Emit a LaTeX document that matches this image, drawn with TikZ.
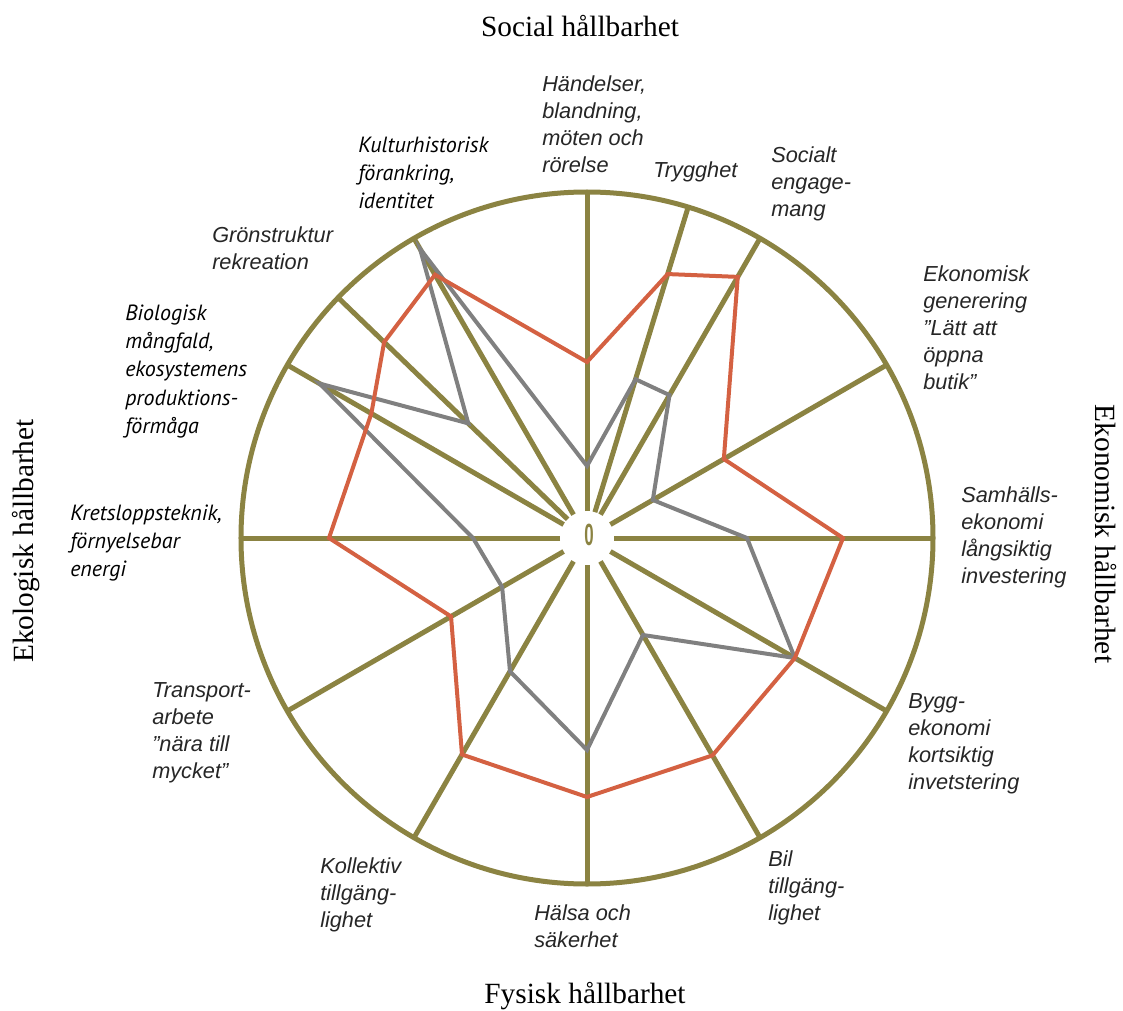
\documentclass[tikz,border=0pt]{standalone}
\usepackage{fontspec}
\usepackage{graphicx}
\setmainfont{Liberation Serif}
\newfontfamily\arialfont{Liberation Sans}
\newfontfamily\myriadfont{PT Sans}
\definecolor{spokeolive}{RGB}{139,131,66}
\definecolor{plotred}{RGB}{212,97,66}
\definecolor{plotgrey}{RGB}{128,128,128}
\definecolor{labgrey}{RGB}{38,38,38}
\tikzset{
  spoke/.style={draw=spokeolive, line width=3.75pt},
  rim/.style={draw=spokeolive, line width=3.75pt},
  redline/.style={draw=plotred, line width=3pt},
  greyline/.style={draw=plotgrey, line width=3pt},
  lab/.style={anchor=north west, inner sep=0pt, align=left, text=labgrey,
    font=\arialfont\itshape\fontsize{16.3pt}{20.25pt}\selectfont},
  myr/.style={anchor=north west, inner sep=0pt, align=left, text=black,
    font=\myriadfont\itshape\fontsize{16.5pt}{21.2pt}\selectfont},
  title/.style={anchor=base, inner sep=0pt, font=\fontsize{22pt}{26pt}\selectfont}
}
\begin{document}
\begin{tikzpicture}[x=0.75pt,y=0.75pt]
\useasboundingbox (-587,-472) rectangle (536,538);
% rim and spokes
\draw[rim] (0,0) circle (346);
\foreach \a in {90,73,60,30,0,-30,-60,-90,-120,-150,180,150,136,120}
  \draw[spoke] (\a:27) -- (\a:346);
\node[text=spokeolive, inner sep=0pt, font=\arialfont\bfseries\fontsize{23pt}{23pt}\selectfont] (zero) at (2,3) {\scalebox{0.55}[1]{0}};
% grey profile
\draw[greyline] (90:72) -- (73:166) -- (60:165) -- (30:76) -- (0:160) -- (-30:240)
  -- (-60:112) -- (-90:212) -- (-120:154) -- (-150:98) -- (180:114) -- (150:309)
  -- (136:165) -- (120:334) -- cycle;
% red profile
\draw[redline] (90:176) -- (73:276) -- (60:301.5) -- (30:158) -- (0:256) -- (-30:240)
  -- (-60:251) -- (-90:259) -- (-120:250) -- (-150:157) -- (180:258) -- (150:249)
  -- (136:282) -- (120:304) -- cycle;
% titles
\node[title] (social) at (-7,501) {Social hållbarhet};
\node[title] (fysisk) at (-2,-465) {Fysisk hållbarhet};
\node[title, rotate=90] (ekologisk) at (-553,-3) {Ekologisk hållbarhet};
\node[title, rotate=-90] (ekonomisk) at (508,4) {Ekonomisk hållbarhet};
% labels
\node[lab] (handelser) at (-45,465.5) {\strut Händelser,\\blandning,\\möten och\\rörelse};
\node[lab] (trygghet) at (66,379.9) {\strut Trygghet};
\node[lab] (socialt) at (184,394.9) {\strut Socialt\\engage-\\mang};
\node[lab] (ekgen) at (336,275.9) {\strut Ekonomisk\\generering\\”Lätt att\\öppna\\butik”};
\node[lab] (samh) at (374,54.9) {\strut Samhälls-\\ekonomi\\långsiktig\\investering};
\node[lab] (bygg) at (321,-151.1) {\strut Bygg-\\ekonomi\\kortsiktig\\invetstering};
\node[lab] (bil) at (181,-309.1) {\strut Bil\\tillgäng-\\lighet};
\node[lab] (halsa) at (-53,-363.1) {\strut Hälsa och\\säkerhet};
\node[lab] (kollektiv) at (-267,-316.1) {\strut Kollektiv\\tillgäng-\\lighet};
\node[lab] (transport) at (-435,-140.1) {\strut Transport-\\arbete\\”nära till\\mycket”};
\node[lab] (gron) at (-375,314.9) {\strut Grönstruktur\\rekreation};
\node[myr] (kultur) at (-229,405.8) {\strut Kulturhistorisk\\förankring,\\identitet};
\node[myr] (bio) at (-462,237.8) {\strut Biologisk\\mångfald,\\ekosystemens\\produktions-\\förmåga};
\node[myr] (krets) at (-517,37.8) {\strut Kretsloppsteknik,\\förnyelsebar\\energi};
\end{tikzpicture}
\end{document}
